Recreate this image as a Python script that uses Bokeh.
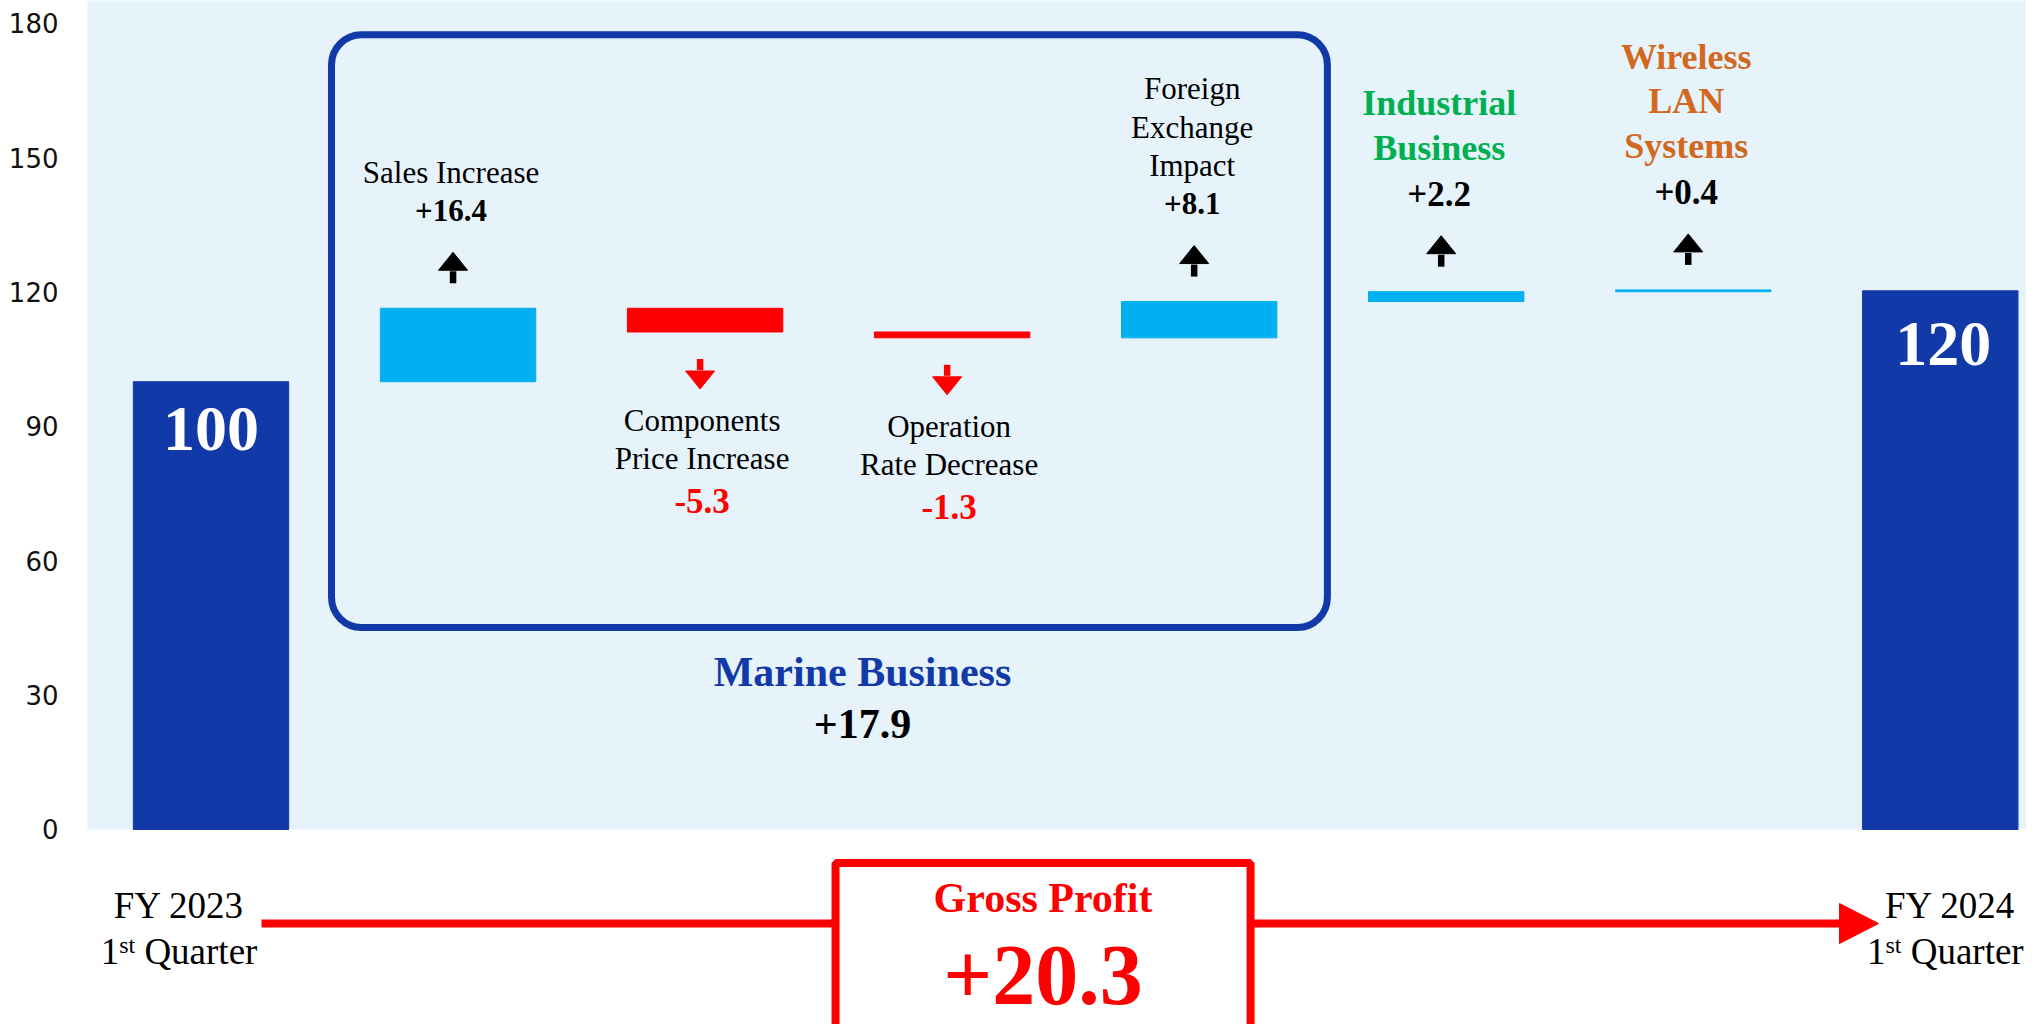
from bokeh.plotting import figure
from bokeh.models import FixedTicker, BoxAnnotation, ColumnDataSource
from bokeh.core.properties import value, field
from bokeh.embed import file_html
from bokeh.resources import INLINE

# ---------------- data ----------------
start_value = 100.0
start_label = "100"
end_value = 120.3
end_label = "120"
step_names = ["Sales Increase", "Components\nPrice Increase", "Operation\nRate Decrease",
              "Foreign\nExchange\nImpact", "Industrial\nBusiness", "Wireless\nLAN\nSystems"]
step_values = [16.4, -5.3, -1.3, 8.1, 2.2, 0.4]
step_labels = ["+16.4", "-5.3", "-1.3", "+8.1", "+2.2", "+0.4"]
group_name = "Marine Business"
group_label = "+17.9"
total_name = "Gross Profit"
total_label = "+20.3"
period_labels = ["FY 2023", "FY 2024"]
quarter_parts = ["1", "st", "Quarter"]
y_ticks = [0, 30, 60, 90, 120, 150, 180]

# ---------------- styles / layout ----------------
DARK = "#1139A8"
CYAN = "#00B0F0"
RED = "#FF0000"
BG = "#E6F3FB"
GREEN = "#00B050"
ORANGE = "#D2691E"
SERIF = "Liberation Serif"
# per-step name style: (font size px, bold, color)
name_styles = [(31, False, "black")] * 4 + [(36, True, GREEN), (36, True, ORANGE)]
value_sizes = [31, 35, 35, 31, 35, 35]

FIG_W, FIG_H = 2026, 1024
BORDER_L = 87
X0, X1 = -0.5, 7.349
Y0, Y1 = -43.55, 185.13
PXY = (Y1 - Y0) / FIG_H             # data units per pixel (y)
PXX = (X1 - X0) / (FIG_W - BORDER_L)  # data units per pixel (x)
BAR_W = 0.629

p = figure(width=FIG_W, height=FIG_H, x_range=(X0, X1), y_range=(Y0, Y1),
           output_backend="svg", toolbar_location=None,
           min_border_left=BORDER_L, min_border_right=0,
           min_border_top=0, min_border_bottom=0,
           background_fill_color="white", border_fill_color="white")
p.outline_line_color = None
p.grid.visible = False
p.xaxis.visible = False
p.yaxis.ticker = FixedTicker(ticks=y_ticks)
p.yaxis.axis_line_color = None
p.yaxis.major_tick_line_color = None
p.yaxis.minor_tick_line_color = None
p.yaxis.major_tick_out = 0
p.yaxis.major_tick_in = 0
p.yaxis.major_label_standoff = 29
p.yaxis.major_label_text_font = "DejaVu Sans"
p.yaxis.major_label_text_font_size = "26px"
p.yaxis.major_label_text_color = "#111111"

# background of the plotting region (above zero)
p.quad(left=[X0 - 1], right=[X1 + 1], bottom=[0], top=[Y1 + 1],
       fill_color=BG, line_color=None)

# ---------------- bars ----------------
bar_bottom, bar_top, bar_color = [0.0], [start_value], [DARK]
cum = start_value
for v in step_values:
    lo, hi = sorted([cum, cum + v])
    bar_bottom.append(lo)
    bar_top.append(hi)
    bar_color.append(CYAN if v > 0 else RED)
    cum += v
bar_bottom.append(0.0)
bar_top.append(end_value)
bar_color.append(DARK)
xs = list(range(len(bar_top)))
p.vbar(x=xs, width=BAR_W, bottom=bar_bottom, top=bar_top,
       fill_color=bar_color, line_color=bar_color, line_width=1)

# ---------------- small arrows ----------------
sx0, sy0, sx1, sy1, scol = [], [], [], [], []
hxs, hys = [], []
HW = 14.5 * PXX
for i, v in enumerate(step_values):
    x = i + 1 - 5 * PXX
    if v > 0:
        t = bar_top[i + 1]
        base = t + 25 * PXY
        tip = t + 56 * PXY
        hb = tip - 18 * PXY
        shaft_end = hb - 1 * PXY
        col = "black"
    else:
        b = bar_bottom[i + 1]
        base = b - 27 * PXY
        tip = b - 57 * PXY
        hb = tip + 18 * PXY
        shaft_end = hb + 1 * PXY
        col = RED
    sx0.append(x); sx1.append(x); sy0.append(base); sy1.append(shaft_end); scol.append(col)
    hxs.append([x - HW, x + HW, x])
    hys.append([hb, hb, tip])
p.segment(x0=sx0, y0=sy0, x1=sx1, y1=sy1, line_color=scol, line_width=6.5)
p.patches(xs=hxs, ys=hys, fill_color=scol, line_color=scol, line_width=1)

# ---------------- bottom arrow and total box ----------------
ARROW_Y = -21.0
ARROW_X0 = 0 + 50.5 * PXX
HEAD_B = 6.592
HEAD_T = 6.75
p.segment(x0=[ARROW_X0], y0=[ARROW_Y], x1=[HEAD_B + 1 * PXX], y1=[ARROW_Y],
          line_color=RED, line_width=8)
p.patches(xs=[[HEAD_B, HEAD_B, HEAD_T]],
          ys=[[ARROW_Y + 20 * PXY, ARROW_Y - 20 * PXY, ARROW_Y]],
          fill_color=RED, line_color=RED, line_width=1)

GB_L, GB_R, GB_T = 2.528, 4.208, -7.48
p.quad(left=[GB_L], right=[GB_R], top=[GB_T], bottom=[Y0 - 10],
       fill_color="white", line_color=RED, line_width=8)

# Marine business rounded frame
MB_L, MB_R, MB_T, MB_B = 0.4878, 4.519, 177.5, 45.1
p.add_layout(BoxAnnotation(left=MB_L, right=MB_R, top=MB_T, bottom=MB_B,
                           fill_alpha=0, line_color=DARK, line_alpha=1.0,
                           line_width=7, border_radius=30))

# ---------------- texts ----------------
T = dict(x=[], y=[], text=[], size=[], style=[], color=[], align=[], xoff=[])


def add(x, y, text, size, bold, color, align="center", xoff=0.0):
    T["x"].append(x); T["y"].append(y); T["text"].append(text)
    T["size"].append(f"{size}px"); T["style"].append("bold" if bold else "normal")
    T["color"].append(color); T["align"].append(align); T["xoff"].append(xoff)


# start / end totals inside bars
add(0, bar_top[0] - 47 * PXY, start_label, 64, True, "white")
add(len(xs) - 1, bar_top[-1] - 53 * PXY, end_label, 64, True, "white", xoff=3)

LAB_XOFF = -7
for i, v in enumerate(step_values):
    x = i + 1
    size, bold, col = name_styles[i]
    lines = step_names[i].split("\n")
    vsize = value_sizes[i]
    if v > 0:
        vy = bar_top[i + 1] + 98 * PXY
        add(x, vy, step_labels[i], vsize, True, "black", xoff=LAB_XOFF)
        gap = 46 if bold else 38
        spacing = 44.5 if bold else 38.5
        y = vy + gap * PXY
        for ln in reversed(lines):
            add(x, y, ln, size, bold, col, xoff=LAB_XOFF)
            y += spacing * PXY
    else:
        y = bar_bottom[i + 1] - 89 * PXY
        for ln in lines:
            add(x, y, ln, size, bold, col, xoff=LAB_XOFF + 4)
            y -= 37.5 * PXY
        y -= 5 * PXY
        add(x, y, step_labels[i], vsize, True, RED, xoff=LAB_XOFF + 4)

# Marine business group label
MB_TX = 2.637
add(MB_TX, MB_B - 44 * PXY, group_name, 42, True, DARK)
add(MB_TX, MB_B - 96 * PXY, group_label, 42, True, "black")

# gross profit
GB_C = (GB_L + GB_R) / 2
add(GB_C, GB_T - 35 * PXY, total_name, 42, True, RED)
add(GB_C, GB_T - 112.5 * PXY, total_label, 86, True, RED)

# period labels
FS, FSS = 37, 24
w1 = 0.5 * FS
wst = (0.389 + 0.278) * FSS
wsp = 0.25 * FS
wq = 3.054 * FS
tot = w1 + wst + wsp + wq
for cat, off, qoff, lab in [(0, -32, -32, period_labels[0]),
                            (len(xs) - 1, 10, 5, period_labels[1])]:
    add(cat, ARROW_Y + 18.5 * PXY, lab, FS, False, "black", xoff=off)
    qy = ARROW_Y - 28 * PXY
    s = qoff - tot / 2
    add(cat, qy, quarter_parts[0], FS, False, "black", "left", s)
    add(cat, qy + 7 * PXY, quarter_parts[1], FSS, False, "black", "left", s + w1)
    add(cat, qy, quarter_parts[2], FS, False, "black", "left", s + w1 + wst + wsp)

src = ColumnDataSource(T)
p.text(x="x", y="y", text="text", source=src,
       text_font=value(SERIF), text_font_size=field("size"),
       text_font_style=field("style"), text_color=field("color"),
       text_align=field("align"), text_baseline="middle",
       x_offset=field("xoff"))

open("out.html", "w").write(file_html(p, INLINE))
